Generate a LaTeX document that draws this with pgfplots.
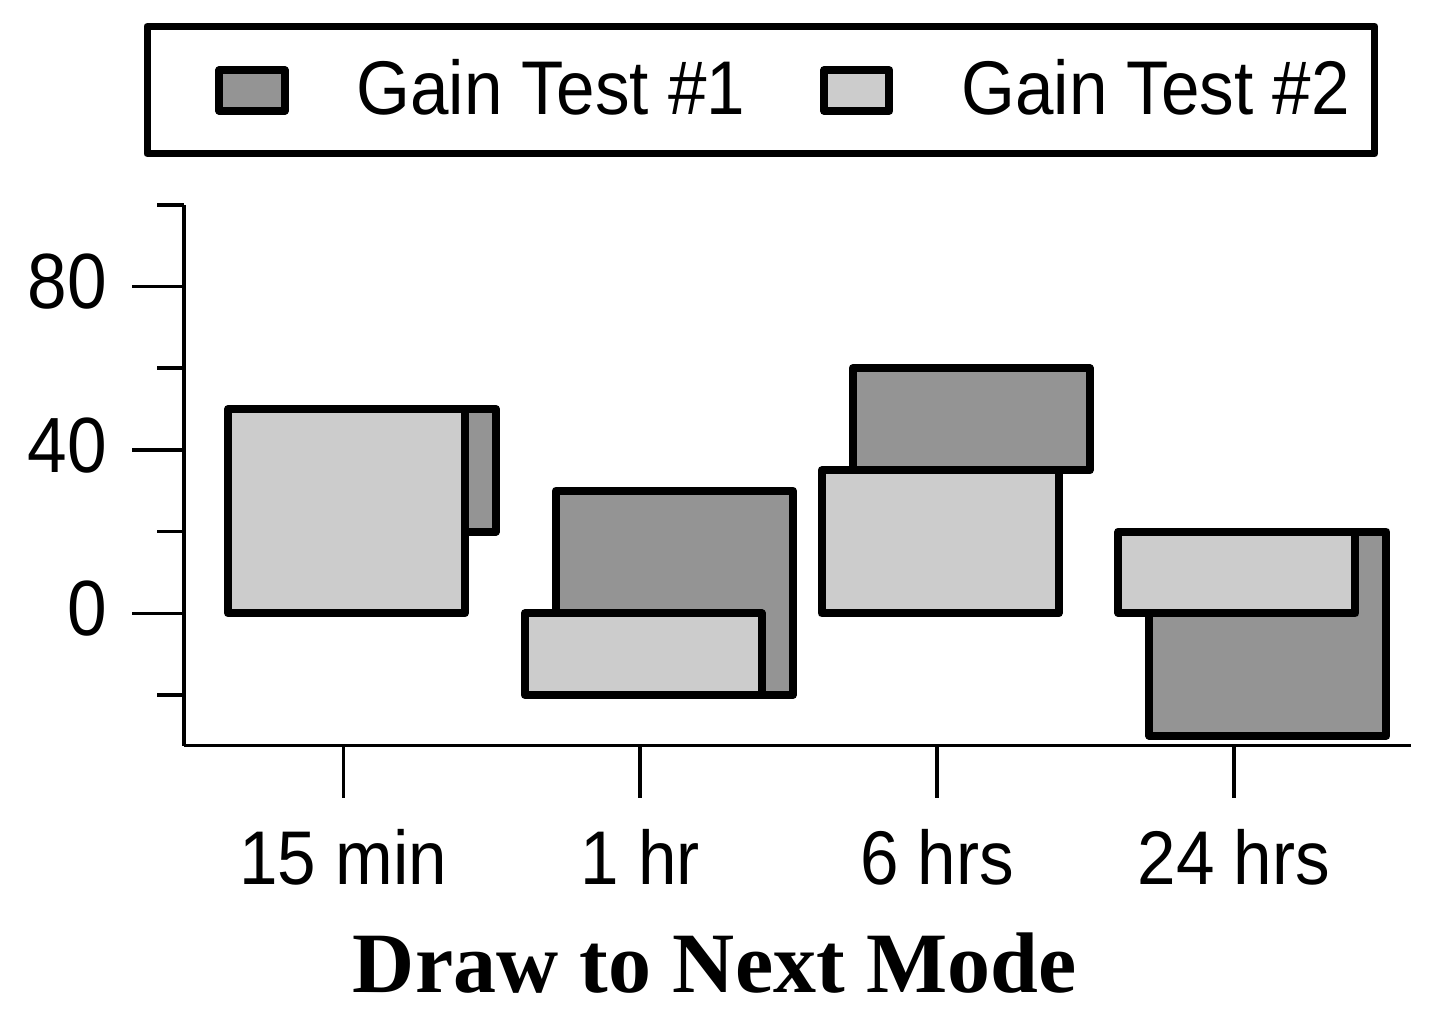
\documentclass[border=0pt]{standalone}
\usepackage{fontspec}
\setmainfont{Liberation Sans}
\newfontfamily\labelfont{Liberation Serif}
\usepackage{graphicx}
\usepackage{pgfplots}
\pgfplotsset{compat=1.18}
\definecolor{gaindark}{HTML}{949494}
\definecolor{gainlight}{HTML}{CCCCCC}
% the sans text of the original is a little taller than Arial
\newcommand\tall[1]{\scalebox{1}[1.1]{#1}}

\pgfplotsset{
  gainbox/.style={legend image code/.code={
      \path (-10.9pt,0pt);
      \draw[##1, line width=2pt, line join=round] (0pt,-5.2pt) rectangle (16.3pt,5.0pt);}},
  gainframe/.style={
    scale only axis, width=306.675pt, height=135.225pt,
    at={(0pt,0pt)}, anchor=south west,
    xmin=-0.5357, xmax=3.597, ymin=-32.4, ymax=100,
    enlargelimits=false,
    ybar stacked, stack negative=on previous, bar width=59.25pt,
  },
}

\begin{document}
\begin{tikzpicture}
% dark bars (floating: invisible base + visible part), axes, legend
\begin{axis}[gainframe,
  axis lines*=left,
  axis line style={line width=0.9pt},
  tick style={line width=0.9pt, black},
  tick align=outside,
  xtick={0,1,2,3},
  xticklabels={\tall{15 min}, \tall{1 hr}, \tall{6 hrs}, \tall{24 hrs}},
  ytick={0,40,80},
  minor ytick={-20,20,60,100},
  yticklabel={\tall{\pgfmathprintnumber{\tick}}},
  major tick length=13pt,
  minor tick length=6.75pt,
  tick label style={font=\fontsize{17.3}{20}\selectfont},
  xticklabel style={yshift=-4.5pt},
  yticklabel style={xshift=-2.75pt, yshift=1.2pt, font=\fontsize{17.8}{20}\selectfont},
  /pgf/number format/assume math mode=true,
  xlabel={Draw to Next Mode},
  xlabel style={at={(axis description cs:0.4324,0)}, anchor=base, yshift=-61.65pt,
    font=\labelfont\bfseries\fontsize{21.5}{24}\selectfont},
  legend columns=2,
  legend cell align=left,
  legend style={at={(-0.0304,1.330)}, anchor=north west, draw=black, outer sep=0pt,
    line width=1.75pt, line join=round, inner xsep=6.2pt, inner ysep=8.3pt,
    font=\fontsize{17.3}{20}\selectfont, nodes={inner sep=0pt},
    /tikz/every odd column/.append style={column sep=17pt},
    /tikz/every even column/.append style={column sep=8pt}},
  every axis plot post/.append style={gainbox},
]
% Gain Test #1: lower ends
\addplot[forget plot, draw=none, fill=none, bar shift=8.55pt]
  coordinates {(0,20) (1,-20) (2,35) (3,-30)};
% Gain Test #1: extent above lower end (tops at 50, 30, 60, 20)
\addplot[draw=black, fill=gaindark, line width=2pt, line join=round, bar shift=8.55pt]
  coordinates {(0,30) (1,50) (2,25) (3,50)};
\addlegendentry{\tall{Gain Test \#1}}
\addlegendimage{draw=black, fill=gainlight, gainbox}
\addlegendentry{\tall{Gain Test \#2}}
\coordinate (o) at (rel axis cs:0,0);
\end{axis}
% light bars on top
\begin{axis}[gainframe, hide axis]
\addplot[draw=black, fill=gainlight, line width=2pt, line join=round, bar shift=0.8pt]
  coordinates {(0,50) (1,-20) (2,35) (3,20)};
\end{axis}
\pgfresetboundingbox
\path ([shift={(-46.075pt,-69.325pt)}]o) rectangle ([shift={(313.675pt,186.425pt)}]o);
\end{tikzpicture}
\end{document}
